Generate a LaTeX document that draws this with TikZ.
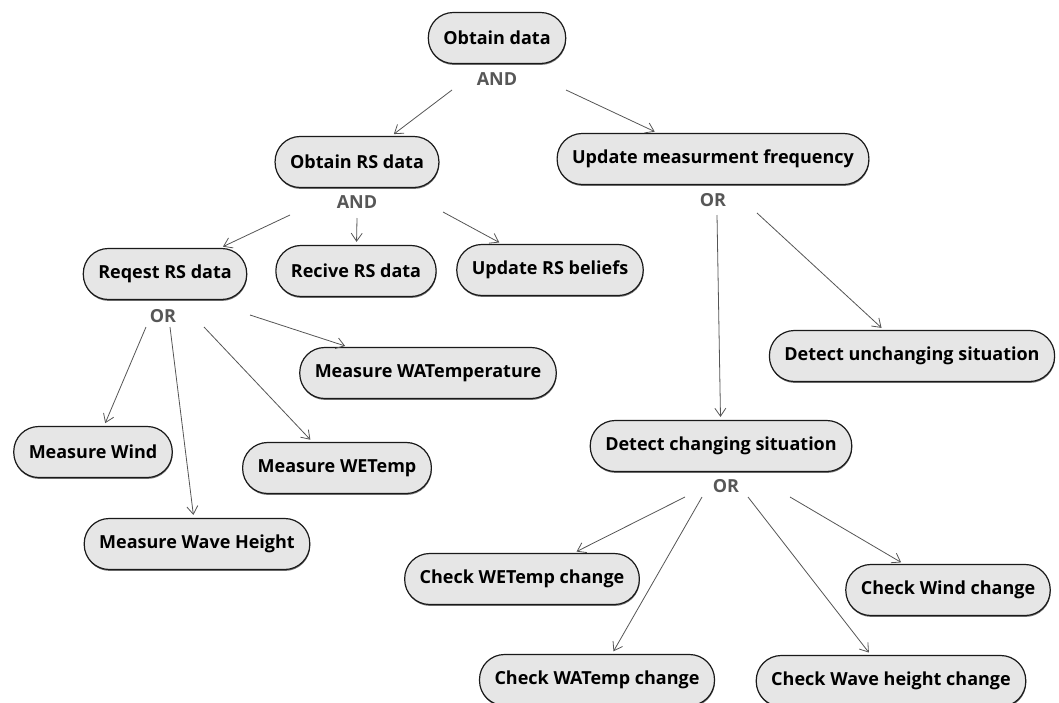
\documentclass[tikz,border=0pt]{standalone}
\usepackage{fontspec}
\setmainfont{Open Sans}
\usetikzlibrary{arrows.meta,shadows}
\definecolor{GoalFill}{HTML}{E6E6E6}
\definecolor{GoalLine}{HTML}{1A1A1A}
\definecolor{Connector}{HTML}{555555}
\definecolor{Muted}{HTML}{575757}

\tikzset{
  goal/.style={
    draw=GoalLine,
    fill=GoalFill,
    line width=1.2pt,
    rounded corners=25pt,
    minimum height=51pt,
    inner xsep=15pt,
    font=\fontsize{18}{21}\selectfont\bfseries,
    drop shadow={shadow xshift=0.4pt, shadow yshift=-1.4pt, fill=black, opacity=0.55}
  },
  refine/.style={
    text=Muted,
    inner sep=1pt,
    font=\fontsize{18}{21}\selectfont\bfseries
  },
  link/.style={
    draw=Connector,
    line width=0.8pt,
    -{Straight Barb[length=8pt,width=11pt]},
    shorten >=3pt
  }
}

\begin{document}
\begin{tikzpicture}[x=1pt,y=-1pt]

  \useasboundingbox (0,0) rectangle (1059,702);

  % goals
  \node[goal] (od) at (497,38) {Obtain data};
  \node[refine] (od-and) at (497,79) {AND};
  \node[goal] (ors) at (357,162) {Obtain RS data};
  \node[refine] (ors-and) at (357,202) {AND};
  \node[goal] (umf) at (713,159) {Update measurment frequency};
  \node[refine] (umf-or) at (713,200) {OR};
  \node[goal] (req) at (165,274) {Reqest RS data};
  \node[refine] (req-or) at (163,316) {OR};
  \node[goal] (rec) at (356,271) {Recive RS data};
  \node[goal] (urb) at (550,270) {Update RS beliefs};
  \node[goal] (mwa) at (428,373) {Measure WATemperature};
  \node[goal] (dus) at (912,356) {Detect unchanging situation};
  \node[goal] (mwi) at (93,452) {Measure Wind};
  \node[goal] (mwe) at (337,468) {Measure WETemp};
  \node[goal] (mwh) at (197,544) {Measure Wave Height};
  \node[goal] (dcs) at (721,446) {Detect changing situation};
  \node[refine] (dcs-or) at (726,486) {OR};
  \node[goal] (cwe) at (522,579) {Check WETemp change};
  \node[goal] (cwi) at (948,590) {Check Wind change};
  \node[goal] (cwa) at (597,680) {Check WATemp change};
  \node[goal] (cwh) at (891,681) {Check Wave height change};

  % connector starts below the AND / OR labels
  \coordinate (od-1) at (452,90);
  \coordinate (od-2) at (566,90);
  \coordinate (ors-1) at (290,215);
  \coordinate (ors-2) at (357,218);
  \coordinate (ors-3) at (443,212);
  \coordinate (req-1) at (146,327);
  \coordinate (req-2) at (170,327);
  \coordinate (req-3) at (204,327);
  \coordinate (req-4) at (250,315);
  \coordinate (umf-1) at (717,215);
  \coordinate (umf-2) at (757,213);
  \coordinate (dcs-1) at (685,497);
  \coordinate (dcs-2) at (702,497);
  \coordinate (dcs-3) at (748,497);
  \coordinate (dcs-4) at (790,497);

  \draw[link] (od-1) -- (ors);
  \draw[link] (od-2) -- (umf);
  \draw[link] (ors-1) -- (req);
  \draw[link] (ors-2) -- (rec);
  \draw[link] (ors-3) -- (urb);
  \draw[link] (req-1) -- (mwi);
  \draw[link] (req-2) -- (mwh);
  \draw[link] (req-3) -- (mwe);
  \draw[link] (req-4) -- (mwa);
  \draw[link] (umf-1) -- (dcs);
  \draw[link] (umf-2) -- (dus);
  \draw[link] (dcs-1) -- (cwe);
  \draw[link] (dcs-2) -- (cwa);
  \draw[link] (dcs-3) -- (cwh);
  \draw[link] (dcs-4) -- (cwi);

\end{tikzpicture}
\end{document}
